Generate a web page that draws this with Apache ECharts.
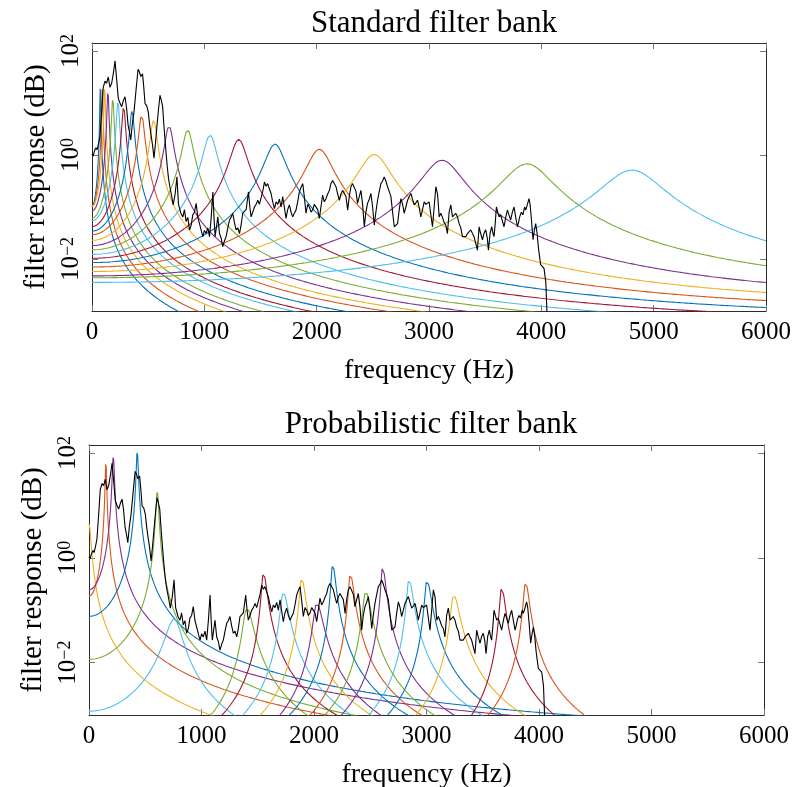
<!DOCTYPE html>
<html><head><meta charset="utf-8">
<script src="https://cdn.jsdelivr.net/npm/echarts@6/dist/echarts.min.js"></script>
<style>html,body{margin:0;padding:0;background:#fff}#c{width:794px;height:787px}</style>
</head><body><div id="c"></div>
<script>
// ---------------- data ----------------
const palette = ['#0072BD','#D95319','#EDB120','#7E2F8E','#77AC30','#4DBEEE','#A2142F'];
const xTicks = [0, 1000, 2000, 3000, 4000, 5000, 6000];
const yTickValues = [0.01, 1, 100];
const SAMPLE_RATE = 16000;

// Standard filter bank: centre (Hz), peak (log10), bandwidth (Hz), colour index
const stdCenters = [74, 92, 113, 142, 185, 231, 282, 356, 442, 549, 686, 852, 1051, 1306, 1629, 2024, 2513, 3116, 3873, 4807];
const stdPeakLog = [1.31, 1.30, 1.30, 1.22, 1.09, 1.04, 0.93, 0.85, 0.77, 0.67, 0.56, 0.48, 0.385, 0.30, 0.21, 0.11, 0.01, -0.10, -0.17, -0.29];
const stdBandwidth = [3.7, 4.6, 5.7, 7.1, 9.2, 11.5, 14, 17.5, 22, 27, 34, 42, 52, 65, 81, 101, 125, 155, 192, 232];
const stdColor = [0,1,2,3,4,5,6,0,1,2,3,4,5,6,0,1,2,3,4,5];

// Probabilistic filter bank: centre, peak (log10), lower / upper bandwidth, colour index
const probCenters = [0, 150, 216, 429, 607, 757, 1402, 1550, 1727, 1890, 2024, 2166, 2323, 2459, 2610, 2844, 3004, 3242, 3668, 3881];
const probPeakLog = [0.65, 1.82, 1.95, 2.04, 1.29, -1.17, -0.96, -0.29, -0.66, -0.39, -0.87, -0.13, -0.31, -0.65, -0.17, -0.41, -0.43, -0.71, -0.56, -0.47];
const probBandwidthLow  = [16, 5.6, 8, 8, 10.4, 70, 30, 16, 24, 18, 28, 14, 16, 24, 14, 18, 18, 24, 16, 18];
const probBandwidthHigh = [16, 5.6, 8, 8, 10.4, 62, 50, 28, 40, 30, 48, 24, 28, 40, 24, 32, 34, 44, 28, 28];
const probColor = [2, 1, 3, 0, 4, 5, 4, 6, 5, 2, 3, 0, 1, 4, 3, 5, 0, 2, 6, 1];

// Signal spectrum (Hz, log10 value)
const spectrumFreq = [0,10,22,35,45,58,70,85,100,116,130,145,160,175,192,205,220,234,249,264,280,294,308,321,333,345,359,374,392,410,422,434,450,461,472,487,501,512,523,539,552,566,579,593,605,617,629,639,650,661,670,681,694,710,723,740,756,770,791,809,823,838,853,868,883,897,912,927,942,957,972,987,1001,1016,1031,1046,1061,1076,1086,1096,1110,1120,1135,1150,1164,1179,1194,1209,1224,1238,1253,1268,1283,1298,1313,1327,1342,1357,1372,1393,1405,1416,1431,1446,1461,1476,1490,1505,1520,1535,1550,1564,1579,1594,1609,1624,1639,1654,1668,1683,1698,1712,1727,1742,1757,1772,1787,1801,1816,1831,1846,1861,1876,1890,1905,1920,1935,1950,1965,1979,1994,2009,2024,2038,2053,2068,2083,2098,2113,2127,2142,2157,2172,2187,2202,2216,2231,2246,2261,2276,2290,2305,2320,2335,2350,2364,2379,2394,2409,2424,2438,2453,2468,2483,2498,2513,2527,2542,2557,2572,2587,2601,2616,2631,2646,2661,2676,2691,2705,2720,2735,2750,2765,2779,2794,2809,2824,2839,2853,2868,2883,2898,2912,2927,2942,2957,2972,2987,3001,3016,3031,3046,3061,3076,3091,3105,3120,3135,3150,3164,3179,3194,3209,3224,3238,3253,3268,3283,3298,3313,3327,3342,3357,3372,3387,3401,3416,3431,3446,3460,3476,3490,3505,3519,3529,3544,3559,3569,3579,3590,3600,3612,3624,3638,3653,3668,3683,3698,3712,3727,3742,3757,3772,3787,3797,3807,3822,3836,3851,3861,3876,3890,3900,3912,3926,3938,3950,3962,3975,3994,4009,4024,4040,4053,4065];
const spectrumLog = [0.02,-0.02,0.08,0.14,0.10,0.22,0.35,0.8,1.3,1.42,1.38,1.5,1.3,1.38,1.6,1.81,1.80,1.09,1.0,0.93,1.05,1.12,0.9,0.58,0.45,0.29,0.6,0.83,1.25,1.65,1.6,1.51,1.56,1.3,0.99,0.95,0.83,0.6,0.42,0.19,-0.06,0.25,0.58,0.9,1.15,1.05,0.93,0.6,0.29,0.0,-0.22,-0.45,-0.62,-0.80,-0.96,-0.75,-0.42,-0.95,-1.12,-1.19,-1.05,-1.28,-1.2,-1.44,-1.35,-1.15,-1.1,-0.93,-1.2,-1.32,-1.45,-1.57,-1.45,-1.51,-1.4,-1.57,-1.2,-0.71,-1.2,-1.57,-1.35,-1.19,-1.51,-1.6,-1.76,-1.65,-1.57,-1.4,-1.25,-1.2,-1.12,-1.3,-1.44,-1.4,-1.51,-1.35,-1.12,-1.15,-1.05,-0.71,-1.0,-1.19,-1.1,-1.0,-0.95,-0.87,-0.95,-0.93,-0.7,-0.52,-0.6,-0.55,-0.65,-0.74,-0.9,-1.03,-0.9,-0.95,-0.85,-1.0,-0.80,-1.0,-1.22,-1.05,-0.96,-1.1,-1.19,-1.12,-1.06,-0.9,-0.71,-0.62,-0.55,-0.8,-1.12,-0.95,-1.0,-1.1,-1.05,-0.95,-0.93,-1.05,-1.22,-1.0,-0.77,-0.9,-0.84,-0.75,-0.68,-0.55,-0.49,-0.5,-0.61,-0.75,-0.87,-0.75,-0.68,-0.7,-0.8,-1.06,-0.8,-0.61,-0.55,-0.52,-0.7,-0.93,-0.8,-0.68,-0.95,-1.38,-1.1,-0.93,-0.85,-0.74,-1.0,-1.35,-1.1,-0.87,-0.7,-0.55,-0.5,-0.42,-0.5,-0.61,-0.7,-0.80,-1.1,-1.38,-1.4,-1.32,-1.05,-0.84,-0.95,-1.12,-1.0,-0.87,-0.8,-0.74,-0.85,-0.96,-0.92,-0.87,-1.0,-1.19,-1.05,-0.90,-0.95,-0.93,-0.9,-0.87,-1.38,-1.0,-0.61,-0.75,-1.19,-1.12,-1.2,-1.3,-1.35,-1.51,-1.1,-0.96,-1.19,-1.16,-1.12,-1.19,-1.32,-1.4,-1.57,-1.55,-1.57,-1.51,-1.48,-1.44,-1.51,-1.57,-1.6,-1.83,-1.38,-1.51,-1.63,-1.5,-1.44,-1.6,-1.83,-1.5,-1.38,-1.5,-1.57,-1.3,-1.0,-1.1,-1.19,-1.15,-1.12,-1.38,-1.2,-1.06,-1.15,-1.25,-1.1,-1.0,-1.2,-1.38,-1.3,-1.19,-1.1,-1.15,-1.0,-1.06,-0.95,-0.84,-0.95,-1.25,-1.63,-1.45,-1.32,-1.5,-1.8,-2.11,-2.1,-2.18,-2.45,-3.2,-4.5];

// ---------------- helpers ----------------
const FONT = '"Liberation Serif", "DejaVu Serif", serif';
function denom(delta, r) { return 1 - 2 * r * Math.cos(delta) + r * r; }
function resonator(f, fc, bw) {
  const r = 1 - 2 * Math.PI * bw / SAMPLE_RATE;
  const w = 2 * Math.PI * f / SAMPLE_RATE, th = 2 * Math.PI * fc / SAMPLE_RATE;
  return 1 / denom(w - th, r) + 1 / denom(w + th, r);
}
const offs = [-60,-40,-30,-20,-15,-12,-10,-8,-6,-5,-4,-3.5,-3,-2.5,-2,-1.7,-1.4,-1.2,-1,-0.8,-0.6,-0.45,-0.3,-0.15,0,0.15,0.3,0.45,0.6,0.8,1,1.2,1.4,1.7,2,2.5,3,3.5,4,5,6,8,10,12,15,20,30,40,60];
function filterCurve(fc, peakLog, bwLow, bwHigh) {
  const set = new Set();
  for (let f = 0; f <= 6000; f += 10) set.add(f);
  offs.forEach(k => {
    const bw = k < 0 ? bwLow : bwHigh, f = fc + k * bw;
    if (f >= 0 && f <= 6000) set.add(Math.round(f * 100) / 100);
  });
  const fs = Array.from(set).sort((a, b) => a - b);
  const P = Math.pow(10, peakLog);
  return fs.map(f => {
    const bw = f < fc ? bwLow : bwHigh;
    return [f, P * resonator(f, fc, bw) / resonator(fc, fc, bw)];
  });
}
const spectrumData = spectrumFreq.map((f, i) => [f, Math.pow(10, spectrumLog[i])]);

function supLabel(v) {
  const e = Math.round(Math.log10(v));
  return '{b|10}{s|' + (e < 0 ? '\u2212' : '') + Math.abs(e) + '}';
}
const AXCOL = '#2b2b2b';
function xAxes(grid) {
  const common = {
    gridIndex: grid, type: 'value', min: xTicks[0], max: xTicks[xTicks.length - 1], interval: xTicks[1] - xTicks[0],
    axisLine: { show: true, onZero: false, lineStyle: { color: AXCOL, width: 1 } },
    axisTick: { show: true, inside: true, length: 6, lineStyle: { color: '#777', width: 1 } },
    splitLine: { show: false }
  };
  return [
    Object.assign({}, common, {
      position: 'bottom',
      axisLabel: { show: true, fontFamily: FONT, fontSize: 25, color: '#000', margin: 9, formatter: v => String(v) },
      name: 'frequency (Hz)', nameLocation: 'middle', nameGap: 46,
      nameTextStyle: { fontFamily: FONT, fontSize: 28, color: '#000' }
    }),
    Object.assign({}, common, { position: 'top', axisLabel: { show: false } })
  ];
}
function yAxes(grid) {
  const common = {
    gridIndex: grid, type: 'log', logBase: 10, min: 0.001, max: 142.6,
    axisLine: { show: true, onZero: false, lineStyle: { color: AXCOL, width: 1 } },
    axisTick: { show: true, inside: true, length: 6, customValues: yTickValues, lineStyle: { color: '#777', width: 1 } },
    splitLine: { show: false }, minorTick: { show: false }
  };
  return [
    Object.assign({}, common, {
      position: 'left',
      axisLabel: {
        show: true, customValues: yTickValues, rotate: 90, margin: 8, color: '#000',
        formatter: supLabel,
        rich: {
          b: { fontFamily: FONT, fontSize: 25, color: '#000' },
          s: { fontFamily: FONT, fontSize: 18, color: '#000', verticalAlign: 'top' }
        }
      },
      name: 'filter response (dB)', nameLocation: 'middle', nameGap: 40, nameRotate: 90,
      nameTextStyle: { fontFamily: FONT, fontSize: 29, color: '#000' }
    }),
    Object.assign({}, common, { position: 'right', axisLabel: { show: false } })
  ];
}

const series = [];
function addFilters(centers, peaks, bwLow, bwHigh, cols, xi, yi) {
  centers.forEach((fc, i) => {
    series.push({
      type: 'line', xAxisIndex: xi, yAxisIndex: yi, showSymbol: false, silent: true,
      data: filterCurve(fc, peaks[i], bwLow[i], bwHigh[i]), clip: true,
      lineStyle: { color: palette[cols[i]], width: 1.1 }, z: 2
    });
  });
}
addFilters(stdCenters, stdPeakLog, stdBandwidth, stdBandwidth, stdColor, 0, 0);
addFilters(probCenters, probPeakLog, probBandwidthLow, probBandwidthHigh, probColor, 2, 2);
[[0, 0], [2, 2]].forEach(([xi, yi]) => series.push({
  type: 'line', xAxisIndex: xi, yAxisIndex: yi, showSymbol: false, silent: true, clip: true,
  data: spectrumData, lineStyle: { color: '#000', width: 1.1 }, z: 3
}));

const chart = echarts.init(document.getElementById('c'), null, { renderer: 'canvas' });
chart.setOption({
  animation: false,
  backgroundColor: '#fff',
  title: [
    { text: 'Standard filter bank', left: 429, top: 3, textAlign: 'center',
      textStyle: { fontFamily: FONT, fontSize: 31, fontWeight: 'normal', color: '#000' } },
    { text: 'Probabilistic filter bank', left: 426, top: 404, textAlign: 'center',
      textStyle: { fontFamily: FONT, fontSize: 31, fontWeight: 'normal', color: '#000' } }
  ],
  grid: [
    { left: 92, top: 43, width: 674, height: 268, containLabel: false, outerBoundsMode: 'none' },
    { left: 89, top: 445, width: 675, height: 270, containLabel: false, outerBoundsMode: 'none' }
  ],
  xAxis: [...xAxes(0), ...xAxes(1)],
  yAxis: [...yAxes(0), ...yAxes(1)],
  series: series
});
</script>
</body></html>
